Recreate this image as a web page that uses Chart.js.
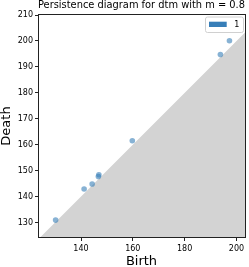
<!DOCTYPE html>
<html>
<head>
<meta charset="utf-8">
<script src="https://cdn.jsdelivr.net/npm/chart.js@4"></script>
<style>
  html, body { margin: 0; padding: 0; background: #fff; }
</style>
</head>
<body>
<canvas id="chart" width="249" height="267"></canvas>
<script>
// Persistence pairs (dimension 1)
const births = [130.2, 141.2, 144.3, 146.9, 146.7, 159.8, 193.8, 197.3];
const deaths = [130.9, 142.9, 144.8, 148.4, 147.7, 161.5, 194.8, 200.1];
const seriesLabel = '1';

// Axis limits and ticks
const xLimits = [123.4, 203.3];
const yLimits = [124.0, 210.4];
const xTicks = [140, 160, 180, 200];
const yTicks = [130, 140, 150, 160, 170, 180, 190, 200, 210];

const pointColor = 'rgba(55, 126, 184, 0.6)';
const legendColor = '#377eb8';

Chart.defaults.font.family = "'DejaVu Sans', sans-serif";
Chart.defaults.color = '#000';

// Frame round the plot area and the legend box in the upper right
const framePlugin = {
    id: 'frame',
    afterDraw(chart) {
        const ctx = chart.ctx;
        const a = chart.chartArea;
        ctx.save();
        ctx.strokeStyle = '#222';
        ctx.lineWidth = 1;
        ctx.strokeRect(a.left + 0.5, a.top + 0.5, a.right - a.left, a.bottom - a.top - 1);

        // legend
        const lx = a.right - 39.5;
        const ly = a.top + 3;
        ctx.beginPath();
        ctx.roundRect(lx, ly, 38, 15.5, 2);
        ctx.fillStyle = 'rgba(255,255,255,0.8)';
        ctx.fill();
        ctx.strokeStyle = '#d0d0d0';
        ctx.stroke();
        ctx.fillStyle = legendColor;
        ctx.fillRect(lx + 3.5, ly + 4.7, 17.7, 5.3);
        ctx.fillStyle = '#000';
        ctx.font = "8px 'DejaVu Sans', sans-serif";
        ctx.textBaseline = 'middle';
        ctx.fillText(chart.data.datasets[0].label, lx + 28.8, ly + 7.8);
        ctx.restore();
    }
};

const ctx = document.getElementById('chart').getContext('2d');
const chart = new Chart(ctx, {
    type: 'scatter',
    data: {
        datasets: [{
            label: seriesLabel,
            data: births.map((b, i) => ({ x: b, y: deaths[i] })),
            backgroundColor: pointColor,
            borderWidth: 0,
            pointRadius: 2.8,
            pointHoverRadius: 2.8
        }, {
            // grey area under the diagonal
            type: 'line',
            label: 'diagonal',
            data: xLimits.map(v => ({ x: v, y: v })),
            fill: 'start',
            backgroundColor: '#d3d3d3',
            borderWidth: 0,
            pointRadius: 0
        }]
    },
    options: {
        responsive: false,
        animation: false,
        devicePixelRatio: 1,
        layout: { padding: { left: 0, right: 4, top: 0, bottom: 0 } },
        plugins: {
            legend: { display: false },
            tooltip: { enabled: false },
            title: {
                display: true,
                text: 'Persistence diagram for dtm with m = 0.8',
                fullSize: false,
                color: '#000',
                font: { size: 10.2, weight: 'normal', lineHeight: 1 },
                padding: { top: 0, bottom: 3.8 }
            }
        },
        scales: {
            x: {
                type: 'linear',
                min: xLimits[0],
                max: xLimits[1],
                afterBuildTicks: (scale) => { scale.ticks = xTicks.map(v => ({ value: v })); },
                afterFit: (scale) => { scale.height = 29; },
                border: { display: false },
                grid: { drawOnChartArea: false, drawTicks: true, tickLength: 3, color: '#222' },
                ticks: { font: { size: 8 }, color: '#000', padding: 3.5, maxRotation: 0 },
                title: { display: true, text: 'Birth', color: '#000', font: { size: 13, lineHeight: 1 }, padding: { top: 0, bottom: -1.5 } }
            },
            y: {
                type: 'linear',
                min: yLimits[0],
                max: yLimits[1],
                afterBuildTicks: (scale) => { scale.ticks = yTicks.map(v => ({ value: v })); },
                afterFit: (scale) => { scale.width = 38; },
                border: { display: false },
                grid: { drawOnChartArea: false, drawTicks: true, tickLength: 3, color: '#222' },
                ticks: { font: { size: 8 }, color: '#000', padding: 2 },
                title: { display: true, text: 'Death', color: '#000', font: { size: 13, lineHeight: 1 }, padding: 0 }
            }
        }
    },
    plugins: [framePlugin]
});
</script>
</body>
</html>
